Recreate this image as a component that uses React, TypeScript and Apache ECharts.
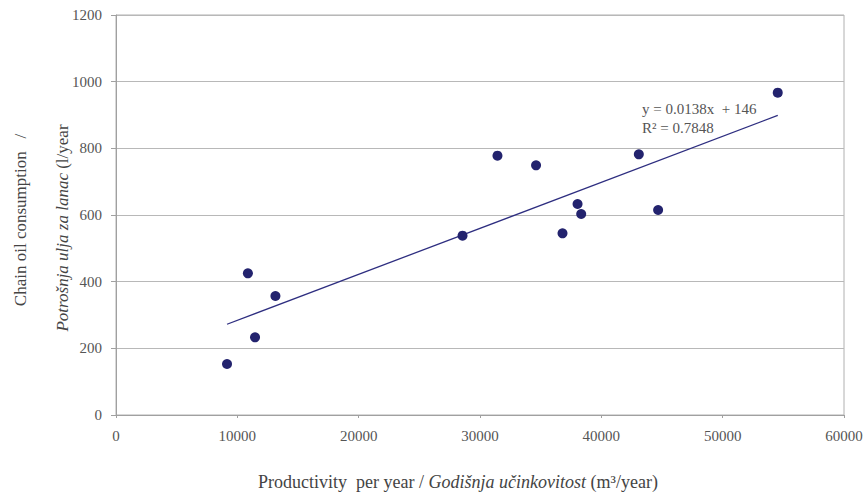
import React, { useEffect, useRef } from "react";
import * as echarts from "echarts";

const productivity = [9150, 10870, 11460, 13140, 28560, 31440, 34620, 36800, 38040, 38340, 43090, 44680, 54540];
const oilConsumption = [153, 425, 233, 357, 538, 778, 749, 545, 633, 603, 782, 615, 967];
const trendSlope = 0.0138;
const trendIntercept = 146;
const rSquared = "0.7848";

const xTitleRich = "Productivity  per year / {i|Godišnja učinkovitost} (m³/year)";
const yTitleLine1 = "Chain oil consumption   /";
const yTitleLine2 = "{i|Potrošnja ulja za lanac} (l/year";

const FONT = "'Liberation Serif', 'Times New Roman', serif";

export default function App() {
  const ref = useRef<HTMLDivElement>(null);
  useEffect(() => {
    if (!ref.current) return;
    const chart = echarts.init(ref.current, null, { renderer: "svg" });
    const minX = Math.min(...productivity);
    const maxX = Math.max(...productivity);
    const trend = [
      [minX, trendSlope * minX + trendIntercept],
      [maxX, trendSlope * maxX + trendIntercept],
    ];
    const textColor = "#555555";
    const titleColor = "#444444";
    chart.setOption({
      animation: false,
      backgroundColor: "#ffffff",
      textStyle: { fontFamily: FONT },
      grid: {
        left: 116,
        right: 22,
        top: 15,
        bottom: 79,
        show: true,
        borderColor: "#b0b0b0",
        borderWidth: 1,
      },
      xAxis: {
        type: "value",
        min: 0,
        max: 60000,
        interval: 10000,
        axisLine: { show: true, lineStyle: { color: "#a0a0a0" } },
        axisTick: { show: true, length: 3, lineStyle: { color: "#a0a0a0" } },
        axisLabel: {
          color: textColor,
          fontSize: 15,
          fontFamily: FONT,
          margin: 13,
          formatter: (v: number) => String(v),
        },
        splitLine: { show: false },
      },
      yAxis: {
        type: "value",
        min: 0,
        max: 1200,
        interval: 200,
        axisLine: { show: true, lineStyle: { color: "#a0a0a0" } },
        axisTick: { show: true, length: 5, lineStyle: { color: "#a0a0a0" } },
        axisLabel: {
          color: textColor,
          fontSize: 15,
          fontFamily: FONT,
          margin: 14,
          formatter: (v: number) => String(v),
        },
        splitLine: { show: true, lineStyle: { color: "#b8b8b8", width: 1 } },
      },
      series: [
        {
          type: "line",
          data: trend,
          symbol: "none",
          lineStyle: { color: "#2e2e80", width: 1.3 },
          z: 2,
        },
        {
          type: "scatter",
          data: productivity.map((x, i) => [x, oilConsumption[i]]),
          symbolSize: 10,
          itemStyle: { color: "#23236e", opacity: 1 },
          z: 3,
        },
      ],
      graphic: [
        {
          type: "text",
          left: 642,
          top: 99,
          style: {
            text: `y = ${trendSlope}x  + ${trendIntercept}\nR² = ${rSquared}`,
            fontSize: 15,
            fontFamily: FONT,
            fill: textColor,
            lineHeight: 19,
          },
        },
        {
          type: "text",
          x: 458,
          y: 482,
          style: {
            text: xTitleRich,
            fontSize: 18,
            fontFamily: FONT,
            fill: titleColor,
            align: "center",
            verticalAlign: "middle",
            rich: {
              i: { fontStyle: "italic", fontSize: 18, fontFamily: FONT, fill: titleColor },
            },
          },
        },
        {
          type: "text",
          x: 20,
          y: 220,
          rotation: Math.PI / 2,
          style: {
            text: yTitleLine1,
            fontSize: 17,
            fontFamily: FONT,
            fill: titleColor,
            align: "center",
            verticalAlign: "middle",
          },
        },
        {
          type: "text",
          x: 62,
          y: 228,
          rotation: Math.PI / 2,
          style: {
            text: yTitleLine2,
            fontSize: 17,
            fontFamily: FONT,
            fill: titleColor,
            align: "center",
            verticalAlign: "middle",
            rich: {
              i: { fontStyle: "italic", fontSize: 17, fontFamily: FONT, fill: titleColor },
            },
          },
        },
      ],
    });
    return () => chart.dispose();
  }, []);
  return (
    <div
      ref={ref}
      style={{ position: "absolute", left: 0, top: 0, width: 866, height: 494 }}
    />
  );
}
